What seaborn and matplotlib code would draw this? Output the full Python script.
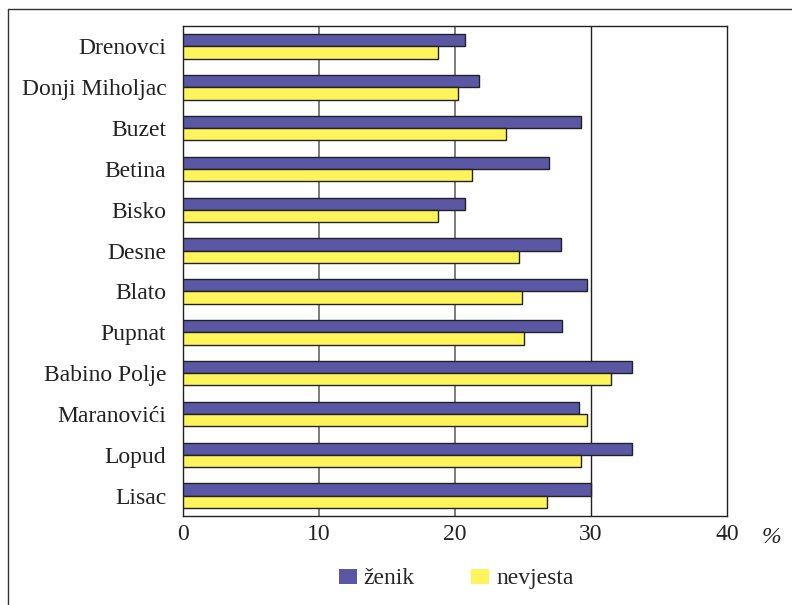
import matplotlib
matplotlib.use("Agg")
import matplotlib.pyplot as plt
import matplotlib.patches as mpatches
import seaborn as sns
import pandas as pd

# --- Data ---
places = ['Drenovci', 'Donji Miholjac', 'Buzet', 'Betina', 'Bisko', 'Desne',
          'Blato', 'Pupnat', 'Babino Polje', 'Maranovići', 'Lopud', 'Lisac']
zenik = [20.7, 21.8, 29.3, 26.9, 20.7, 27.8, 29.7, 27.9, 33.0, 29.1, 33.0, 30.0]
nevjesta = [18.75, 20.2, 23.75, 21.25, 18.75, 24.7, 24.9, 25.1, 31.5, 29.7, 29.3, 26.8]
series = ['ženik', 'nevjesta']
colors = ['#5A58A5', '#FFF45C']
xticks = [0, 10, 20, 30, 40]

df = pd.DataFrame({
    'Place': places * 2,
    'Value': zenik + nevjesta,
    'Series': [series[0]] * len(places) + [series[1]] * len(places),
})

# --- Plot ---
sns.set_theme(style="white")
plt.rcParams['font.family'] = ['Liberation Serif', 'DejaVu Serif']

fig = plt.figure(figsize=(7.92, 6.05), dpi=100)
ax = fig.add_axes([183 / 792, 1 - 516 / 605, (727 - 183) / 792, (516 - 26) / 605])

sns.barplot(data=df, y='Place', x='Value', hue='Series', orient='h',
            palette=colors, width=0.6, edgecolor='#222222', linewidth=1.0,
            saturation=1, ax=ax, legend=False, zorder=3)

ax.set_xlim(0, 40)
ax.set_ylim(len(places) - 0.5, -0.5)
ax.set_xticks(xticks)
ax.set_xlabel('')
ax.set_ylabel('')
ax.tick_params(axis='both', length=0, labelsize=17, colors='#222222')
ax.tick_params(axis='y', pad=12)
ax.tick_params(axis='x', pad=6)

for v in [10, 20]:
    ax.axvline(v, color='#666666', lw=1.2, zorder=1)
ax.axvline(30, color='#222222', lw=1.0, zorder=1)

for s in ax.spines.values():
    s.set_color('#222222')
    s.set_linewidth(1.0)

ax.text(1.081, -0.022, '%', transform=ax.transAxes, fontsize=17,
        style='italic', ha='center', va='top', color='#222222')

# legend
handles = [mpatches.Patch(facecolor=c, edgecolor='none', label=l)
           for c, l in zip(colors, series)]
fig.legend(handles=handles, loc='center', bbox_to_anchor=(0.576, 0.043),
           ncol=2, frameon=False, fontsize=17, handlelength=0.75,
           handleheight=0.6, handletextpad=0.3, columnspacing=2.4)

# outer frame
fig.add_artist(plt.Line2D([8 / 792, 8 / 792], [0, 1 - 9 / 605],
                          transform=fig.transFigure, color='#333333', lw=1.0))
fig.add_artist(plt.Line2D([8 / 792, 1], [1 - 9 / 605, 1 - 9 / 605],
                          transform=fig.transFigure, color='#333333', lw=1.0))

fig.savefig("out.png", dpi=100)
